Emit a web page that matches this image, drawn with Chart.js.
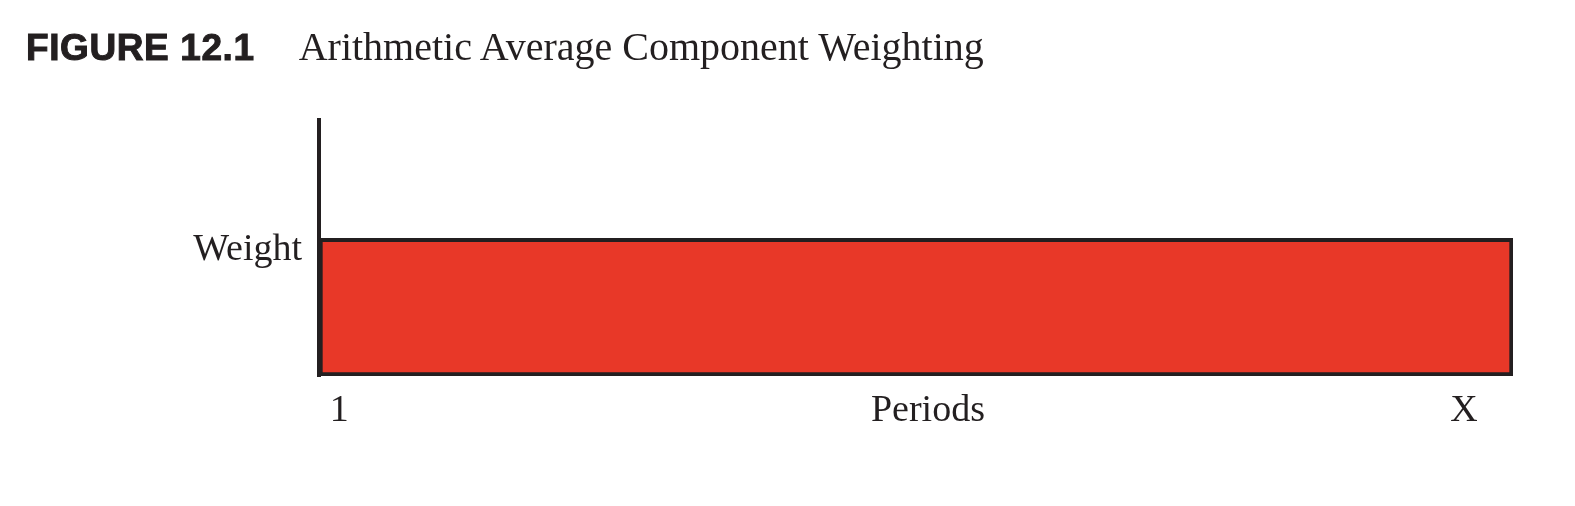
<!DOCTYPE html>
<html>
<head>
  <title>Figure 12.1</title>
  <script src="https://cdn.jsdelivr.net/npm/chart.js"></script>
  <style>
    body { margin: 0; background: #fff; }
    #wrap { position: relative; width: 1575px; height: 506px; }
    #title { position: absolute; left: 26px; top: 24px; white-space: nowrap; color: #231f20; line-height: 46px; }
    #title .fig { font-family: "Liberation Sans", Arial; font-weight: bold; font-size: 37px; letter-spacing: 0.6px; -webkit-text-stroke: 1px #231f20; }
    #title .name { font-family: "Liberation Serif", serif; font-size: 40px; margin-left: 44px; }
    canvas { position: absolute; left: 0; top: 0; }
  </style>
</head>
<body>
<div id="wrap">
  <canvas id="chart" width="1575" height="506"></canvas>
  <div id="title"><span class="fig">FIGURE 12.1</span><span class="name">Arithmetic Average Component Weighting</span></div>
</div>

<script>
  // data
  const periods = ['1 … X'];
  const weights = [1];
  const yLabel = 'Weight';
  const xTickLabels = ['1', 'Periods', 'X'];
  const xTickValues = [0.017, 0.51, 0.959];

  const ink = '#231f20';
  const serif = { family: '"Liberation Serif", serif', size: 38 };

  new Chart(document.getElementById('chart'), {
    type: 'bar',
    data: {
      labels: periods,
      datasets: [{
        data: weights,
        backgroundColor: '#e83828',
        borderColor: ink,
        borderWidth: 4,
        borderSkipped: false,
        barPercentage: 1,
        categoryPercentage: 1
      }]
    },
    options: {
      responsive: false,
      animation: false,
      layout: { padding: { top: 120, right: 62, left: 0, bottom: 0 } },
      plugins: { legend: { display: false }, tooltip: { enabled: false } },
      scales: {
        x: { display: false },
        xt: {
          type: 'linear', position: 'bottom', min: 0, max: 1, offset: false,
          grid: { display: false, drawTicks: false, offset: false },
          border: { display: false },
          afterBuildTicks: s => { s.ticks = xTickValues.map(v => ({ value: v })); },
          afterFit: s => { s.height = 130; },
          ticks: {
            autoSkip: false, maxRotation: 0, padding: 12, color: ink, font: serif,
            callback: (v, i) => xTickLabels[i]
          }
        },
        y: {
          min: 0, max: 1.86,
          grid: { display: false, drawTicks: false },
          border: { display: true, color: ink, width: 4 },
          afterBuildTicks: s => { s.ticks = [{ value: weights[0] * 0.915 }]; },
          afterFit: s => { s.width = 319; },
          ticks: { padding: 17, color: ink, font: serif, callback: () => yLabel }
        }
      }
    }
  });
</script>
</body>
</html>
